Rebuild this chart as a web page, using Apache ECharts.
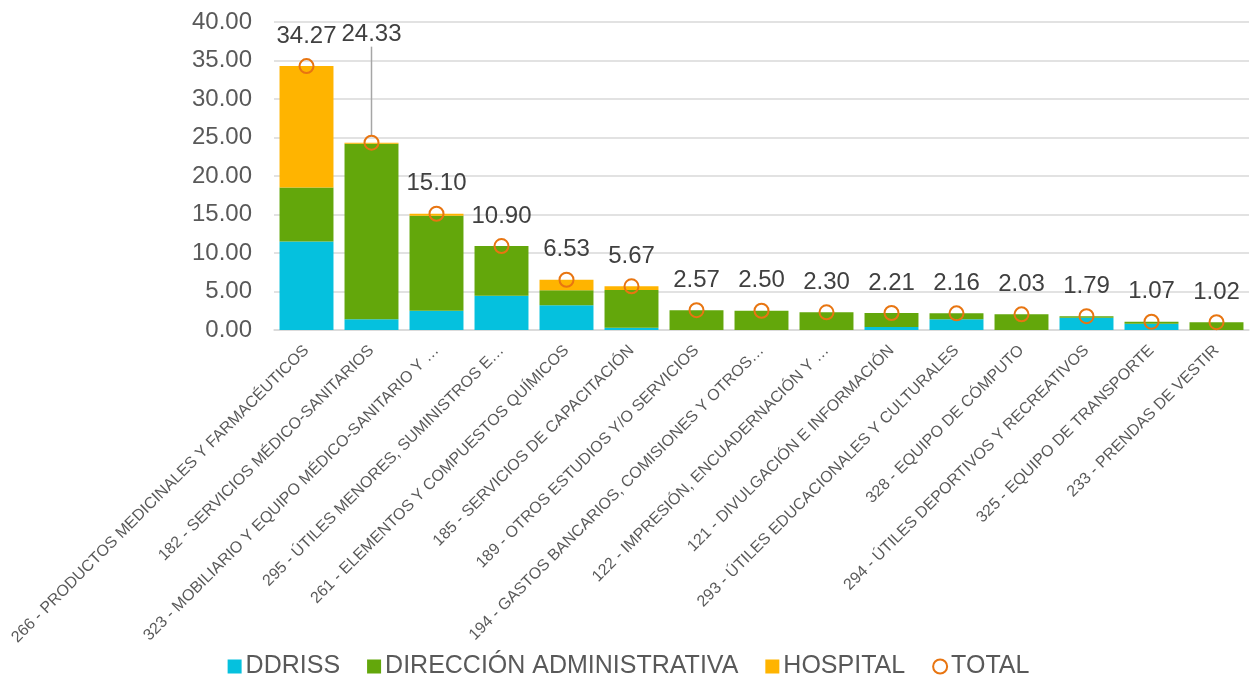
<!DOCTYPE html>
<html>
<head>
<meta charset="utf-8">
<script src="https://cdn.jsdelivr.net/npm/echarts@6/dist/echarts.min.js"></script>
<style>
html,body{margin:0;padding:0;background:#fff;}
#chart{width:1257px;height:677px;}
</style>
</head>
<body>
<div id="chart"></div>
<script>
var categories = [
  "266 - PRODUCTOS MEDICINALES Y FARMACÉUTICOS",
  "182 - SERVICIOS MÉDICO-SANITARIOS",
  "323 - MOBILIARIO Y EQUIPO MÉDICO-SANITARIO Y …",
  "295 - ÚTILES MENORES, SUMINISTROS E…",
  "261 - ELEMENTOS Y COMPUESTOS QUÍMICOS",
  "185 - SERVICIOS DE CAPACITACIÓN",
  "189 - OTROS ESTUDIOS Y/O SERVICIOS",
  "194 - GASTOS BANCARIOS, COMISIONES Y OTROS…",
  "122 - IMPRESIÓN, ENCUADERNACIÓN Y …",
  "121 - DIVULGACIÓN E INFORMACIÓN",
  "293 - ÚTILES EDUCACIONALES Y CULTURALES",
  "328 - EQUIPO DE CÓMPUTO",
  "294 - ÚTILES DEPORTIVOS Y RECREATIVOS",
  "325 - EQUIPO DE TRANSPORTE",
  "233 - PRENDAS DE VESTIR"
];
var ddriss    = [11.50, 1.40, 2.50, 4.45, 3.20, 0.30, 0, 0, 0, 0.38, 1.39, 0, 1.60, 0.82, 0];
var direccion = [7.00, 22.80, 12.35, 6.45, 1.95, 4.90, 2.57, 2.50, 2.30, 1.83, 0.77, 2.03, 0.19, 0.25, 1.02];
var hospital  = [15.77, 0.13, 0.25, 0, 1.38, 0.47, 0, 0, 0, 0, 0, 0, 0, 0, 0];
var total     = [34.27, 24.33, 15.10, 10.90, 6.53, 5.67, 2.57, 2.50, 2.30, 2.21, 2.16, 2.03, 1.79, 1.07, 1.02];
var yTicks = { min: 0, max: 40, interval: 5 };
var leaderIndex = 1;

var FONT = "Liberation Sans, Arial, sans-serif";
var chart = echarts.init(document.getElementById('chart'), null, {renderer: 'canvas'});
var totalColor = '#E87511';

var totalData = total.map(function (v, i) {
  if (i === leaderIndex) {
    return { value: v, labelLine: { show: true, lineStyle: { color: '#A6A6A6', width: 1.5 } } };
  }
  return v;
});

chart.setOption({
  animation: false,
  textStyle: { fontFamily: FONT },
  grid: { left: 274, right: 8, top: 22, bottom: 347, containLabel: false },
  legend: {
    top: 649,
    left: 'center',
    itemWidth: 14,
    itemHeight: 14,
    itemGap: 27,
    textStyle: { fontSize: 25, color: '#595959', fontFamily: FONT, padding: [0, 0, 0, -1] },
    data: [
      { name: 'DDRISS', icon: 'rect' },
      { name: 'DIRECCIÓN ADMINISTRATIVA', icon: 'rect' },
      { name: 'HOSPITAL', icon: 'rect' },
      { name: 'TOTAL', icon: 'circle', itemStyle: { color: 'transparent', borderColor: totalColor, borderWidth: 2 } }
    ]
  },
  xAxis: {
    type: 'category',
    data: categories,
    axisLine: { lineStyle: { color: '#D9D9D9', width: 1.5 } },
    axisTick: { show: false },
    axisLabel: {
      interval: 0,
      rotate: 45,
      fontSize: 16,
      color: '#595959',
      margin: 18,
      fontFamily: FONT
    }
  },
  yAxis: {
    type: 'value',
    min: yTicks.min,
    max: yTicks.max,
    interval: yTicks.interval,
    axisLine: { show: false },
    axisTick: { show: false },
    splitLine: { lineStyle: { color: '#D9D9D9', width: 1.5 } },
    axisLabel: {
      fontSize: 24,
      color: '#595959',
      margin: 22,
      fontFamily: FONT,
      formatter: function (v) { return v.toFixed(2); }
    }
  },
  series: [
    { name: 'DDRISS', type: 'bar', stack: 'a', data: ddriss, barCategoryGap: '17%',
      itemStyle: { color: '#05C1DE' } },
    { name: 'DIRECCIÓN ADMINISTRATIVA', type: 'bar', stack: 'a', data: direccion,
      itemStyle: { color: '#63A70B' } },
    { name: 'HOSPITAL', type: 'bar', stack: 'a', data: hospital,
      itemStyle: { color: '#FFB400' } },
    { name: 'TOTAL', type: 'line', data: totalData, z: 10,
      symbol: 'circle', symbolSize: 14,
      lineStyle: { width: 0, opacity: 0 },
      itemStyle: { color: 'transparent', borderColor: totalColor, borderWidth: 2 },
      label: {
        show: true, position: 'top', distance: 10,
        fontSize: 24, color: '#404040', fontFamily: FONT,
        formatter: function (p) { return p.value.toFixed(2); }
      },
      labelLine: { show: false },
      labelLayout: function (params) {
        if (params.dataIndex === leaderIndex) { return { dy: -78 }; }
        return {};
      }
    }
  ]
});
</script>
</body>
</html>
